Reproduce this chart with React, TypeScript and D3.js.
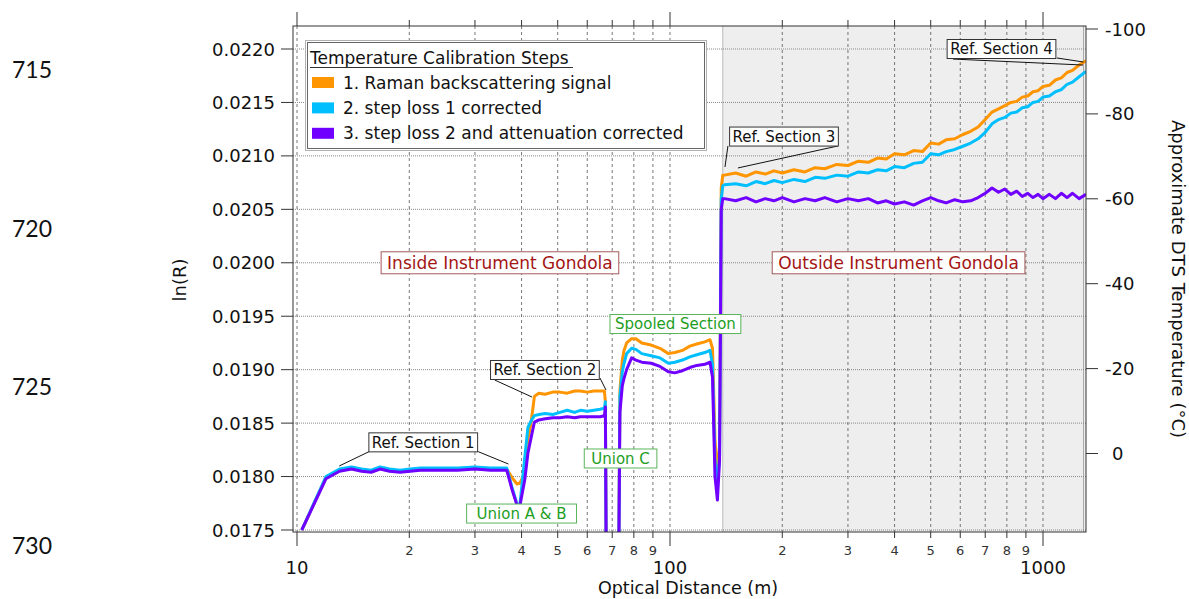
import React, { useRef, useEffect } from "react";
import * as d3 from "d3";

// optical distance (m), shared by the three calibration steps
const distance = [
  10.3, 11.96, 13.0, 14.0, 14.9, 15.8, 16.7, 17.7, 18.9, 20.1, 21.4, 24, 27, 30, 33, 36.5,
  37.7, 38.9, 39.6, 40.8, 41.6, 42.4, 43.3, 44.5, 46.3, 48.5, 50.7, 53, 55.5, 57.5, 60, 62.5, 65, 66.7, 67.1, 67.5,
  72.8, 73.4, 74.5, 75.3, 76.5, 78.9, 81, 84, 89, 94, 99, 103, 108, 113, 118, 124, 128, 130, 132, 134, 135.8, 137.2, 138.5,
  140, 150, 160, 170, 180, 190, 200, 215, 230, 245, 260, 280, 300, 320, 340, 360, 380, 400, 425, 450, 475,
  500, 525, 550, 580, 610, 640, 670, 700, 730, 760, 790, 820, 850, 880, 910, 940, 970, 1000, 1040, 1080,
  1120, 1160, 1200, 1250, 1304,
];

// 1. Raman backscattering signal, ln(R)
const rawSignal = [
  0.0175, 0.01799, 0.01806, 0.01808, 0.01806, 0.01805, 0.01808, 0.01806, 0.01805, 0.01806, 0.01807, 0.01807, 0.01807, 0.01808, 0.01807, 0.01807,
  0.01799, 0.01793, 0.01794, 0.01803, 0.01835, 0.0185, 0.01875, 0.01878, 0.01877, 0.01879, 0.01879, 0.01878, 0.0188, 0.0188, 0.01879, 0.0188, 0.0188, 0.0188, 0.0187, 0.017,
  0.017, 0.0188, 0.01909, 0.01918, 0.01925, 0.01929, 0.01929, 0.01925, 0.01923, 0.0192, 0.01915, 0.01916, 0.01918, 0.01922, 0.01924, 0.01926, 0.01928, 0.0192, 0.01835, 0.018, 0.0183, 0.0207, 0.02082,
  0.02082, 0.02084, 0.02081, 0.02085, 0.02083, 0.02086, 0.02084, 0.02087, 0.02085, 0.02089, 0.02088, 0.02092, 0.02091, 0.02095, 0.02094, 0.02098, 0.02097, 0.02102, 0.02101, 0.02105, 0.02104,
  0.02112, 0.02111, 0.02115, 0.02116, 0.0212, 0.02123, 0.02127, 0.02134, 0.02141, 0.02144, 0.02147, 0.0215, 0.02151, 0.02155, 0.02156, 0.0216, 0.02161, 0.02165, 0.02166, 0.02171,
  0.02173, 0.02178, 0.0218, 0.02185, 0.02189,
];

// 2. step loss 1 corrected
const stepLoss1 = [
  0.0175, 0.018, 0.01807, 0.01809, 0.01807, 0.01806, 0.01809, 0.01807, 0.01806, 0.01807, 0.01808, 0.01808, 0.01808, 0.01809, 0.01808, 0.01808,
  0.0179, 0.01774, 0.01774, 0.01818, 0.01846, 0.01852, 0.01857, 0.01858, 0.01859, 0.01858, 0.0186, 0.01862, 0.0186, 0.01862, 0.01861, 0.01862, 0.01863, 0.01864, 0.0187, 0.017,
  0.017, 0.01875, 0.01898, 0.01906, 0.01915, 0.0192, 0.01919, 0.01915, 0.01913, 0.01911, 0.01906, 0.01907, 0.01909, 0.01912, 0.01914, 0.01916, 0.01918, 0.01905, 0.01815, 0.0179, 0.0182, 0.0206, 0.02072,
  0.02073, 0.02074, 0.02072, 0.02076, 0.02074, 0.02077, 0.02075, 0.02078, 0.02076, 0.0208, 0.02079, 0.02082, 0.02081, 0.02085, 0.02084, 0.02087, 0.02086, 0.0209, 0.02089, 0.02093, 0.02094,
  0.02102, 0.02101, 0.02104, 0.02106, 0.02109, 0.02112, 0.02116, 0.02122, 0.0213, 0.02134, 0.02136, 0.0214, 0.02141, 0.02145, 0.02146, 0.0215, 0.02151, 0.02155, 0.02156, 0.0216,
  0.02162, 0.02167, 0.02169, 0.02174, 0.02179,
];

// 3. step loss 2 and attenuation corrected
const stepLoss2 = [
  0.0175, 0.01798, 0.01805, 0.01807, 0.01805, 0.01804, 0.01807, 0.01805, 0.01804, 0.01805, 0.01806, 0.01806, 0.01806, 0.01807, 0.01806, 0.01806,
  0.01788, 0.01773, 0.01773, 0.01797, 0.01822, 0.01836, 0.01851, 0.01853, 0.01854, 0.01855, 0.01855, 0.01856, 0.01855, 0.01856, 0.01856, 0.01856, 0.01856, 0.01857, 0.01865, 0.017,
  0.017, 0.0186, 0.01885, 0.01892, 0.019, 0.01911, 0.01909, 0.01907, 0.01906, 0.01903, 0.01898, 0.01897, 0.01899, 0.01902, 0.01904, 0.01905, 0.01907, 0.01893, 0.018, 0.01778, 0.01815, 0.0205, 0.0206,
  0.0206, 0.02058, 0.02061, 0.02057, 0.0206, 0.02058, 0.02061, 0.02057, 0.0206, 0.02058, 0.02061, 0.02057, 0.0206, 0.02058, 0.0206, 0.02056, 0.02058, 0.02055, 0.02057, 0.02054, 0.02058,
  0.02061, 0.02058, 0.02056, 0.02059, 0.02057, 0.02058, 0.02061, 0.02065, 0.0207, 0.02066, 0.02069, 0.02064, 0.02067, 0.02062, 0.02065, 0.02061, 0.02064, 0.0206, 0.02064, 0.0206,
  0.02065, 0.02061, 0.02065, 0.0206, 0.02064,
];

const seriesNames = [
  "1. Raman backscattering signal",
  "2. step loss 1 corrected",
  "3. step loss 2 and attenuation corrected",
];
const seriesColors = ["#ff9500", "#00bfff", "#7000ff"];
const seriesValues = [rawSignal, stepLoss1, stepLoss2];

const leftTicks = [0.0175, 0.018, 0.0185, 0.019, 0.0195, 0.02, 0.0205, 0.021, 0.0215, 0.022];
const rightTicks = [0, -20, -40, -60, -80, -100];
const lineNumbers = ["715", "720", "725", "730"];
const outsideStart = 138.5;

// text boxes, anchored in data units: [distance, ln(R)]
const refLabels = [
  { text: "Ref. Section 1", at: [21.8, 0.01832], leaders: [[[15.6, 0.018233], [12.98, 0.018099]], [[30.6, 0.018233], [36.9, 0.018117]]] },
  { text: "Ref. Section 2", at: [46.2, 0.018997], leaders: [[[33.9, 0.018903], [42.66, 0.018744]], [[64.9, 0.018922], [67.35, 0.01881]]] },
  { text: "Ref. Section 3", at: [202.1, 0.021181], leaders: [[[143.0, 0.021093], [140.4, 0.020896]], [[282.1, 0.021093], [152.1, 0.020887]]] },
  { text: "Ref. Section 4", at: [774, 0.022], leaders: [[[573.8, 0.021906], [1280, 0.02185]], [[1090, 0.021916], [1285, 0.021878]]] },
];
const regionLabels = [
  { text: "Inside Instrument Gondola", at: [35.0, 0.02] },
  { text: "Outside Instrument Gondola", at: [410, 0.02] },
];
const unionLabels = [
  { text: "Union A & B", at: [40.0, 0.017654], pad: 10 },
  { text: "Union C", at: [73.7, 0.018169], pad: 7 },
  { text: "Spooled Section", at: [103.4, 0.019427], pad: 5 },
];

const FONT = "DejaVu Sans";

const App = () => {
  const svgRef = useRef<SVGSVGElement>(null);

  useEffect(() => {
    const svg = d3.select(svgRef.current);
    svg.selectAll("*").remove();

    const left = 293, right = 1086, top = 26, bottom = 532;
    const x = d3.scaleLog().domain([10, 1304]).range([297, 1086]);
    const y = d3.scaleLinear().domain([0.0175, 0.022]).range([530, 49]);
    const yR = d3.scaleLinear().domain([-100, 0]).range([29, 453.5]);
    const xTicks = x.ticks();
    const isMajor = (t: number) => Math.abs(Math.log10(t) - Math.round(Math.log10(t))) < 1e-6;

    svg.append("defs").append("clipPath").attr("id", "plotClip")
      .append("rect").attr("x", left).attr("y", top).attr("width", right - left).attr("height", bottom - top);

    // line numbers of the page
    svg.append("g").selectAll("text").data(lineNumbers).join("text")
      .attr("x", 12).attr("y", (_, i) => 78 + i * 158.7)
      .attr("font-family", "Lato").attr("font-size", 23).attr("fill", "#111")
      .text(d => d);

    // shaded outside region
    svg.append("rect")
      .attr("x", x(outsideStart)).attr("y", top)
      .attr("width", right - x(outsideStart)).attr("height", bottom - top)
      .attr("fill", "#eeeeee");
    svg.append("line")
      .attr("x1", x(outsideStart)).attr("x2", x(outsideStart)).attr("y1", top).attr("y2", bottom)
      .attr("stroke", "#bbb");
    svg.append("line")
      .attr("x1", right - 2.5).attr("x2", right - 2.5).attr("y1", top).attr("y2", bottom)
      .attr("stroke", "#aaa");

    // grid
    const grid = svg.append("g");
    grid.selectAll(".hg").data(leftTicks).join("line").attr("class", "hg")
      .attr("x1", left).attr("x2", right).attr("y1", d => y(d)).attr("y2", d => y(d))
      .attr("stroke", "#888").attr("stroke-dasharray", "1,1");
    grid.selectAll(".vg").data(xTicks).join("line").attr("class", "vg")
      .attr("x1", d => x(d)).attr("x2", d => x(d)).attr("y1", top).attr("y2", bottom)
      .attr("stroke", "#555").attr("stroke-width", 0.8).attr("stroke-dasharray", "3,3");

    // curves
    const line = d3.line<number>()
      .x((_, i) => x(distance[i]))
      .y(d => y(d))
      .curve(d3.curveLinear);
    svg.append("g").attr("clip-path", "url(#plotClip)")
      .selectAll("path").data(seriesValues).join("path")
      .attr("d", d => line(d))
      .attr("fill", "none")
      .attr("stroke", (_, i) => seriesColors[i])
      .attr("stroke-width", 3)
      .attr("stroke-linejoin", "round");

    // frame
    const axes = svg.append("g").attr("stroke", "#333").attr("fill", "none");
    axes.append("rect").attr("x", left).attr("y", top).attr("width", right - left).attr("height", bottom - top);

    // bottom and top ticks
    axes.selectAll(".bt").data(xTicks).join("line").attr("class", "bt")
      .attr("x1", d => x(d)).attr("x2", d => x(d))
      .attr("y1", bottom).attr("y2", d => bottom + (isMajor(d) ? 14 : 6));
    axes.selectAll(".tt").data(xTicks).join("line").attr("class", "tt")
      .attr("x1", d => x(d)).attr("x2", d => x(d))
      .attr("y1", top).attr("y2", d => top - (isMajor(d) ? 14 : 6));
    svg.append("g").selectAll("text").data(xTicks).join("text")
      .attr("x", d => x(d))
      .attr("y", d => (isMajor(d) ? 574 : 555))
      .attr("text-anchor", "middle")
      .attr("font-family", FONT)
      .attr("font-size", d => (isMajor(d) ? 18 : 13))
      .attr("fill", d => (isMajor(d) ? "#111" : "#333"))
      .text(d => (isMajor(d) ? String(d) : String(Math.round(d / Math.pow(10, Math.floor(Math.log10(d) + 1e-9))))));

    // left axis
    axes.selectAll(".lt").data(leftTicks).join("line").attr("class", "lt")
      .attr("x1", 281).attr("x2", left).attr("y1", d => y(d)).attr("y2", d => y(d));
    svg.append("g").selectAll("text").data(leftTicks).join("text")
      .attr("x", 275).attr("y", d => y(d) + 6.5)
      .attr("text-anchor", "end")
      .attr("font-family", FONT).attr("font-size", 18).attr("fill", "#111")
      .text(d => d3.format(".4f")(d));

    // right axis
    axes.selectAll(".rt").data(rightTicks).join("line").attr("class", "rt")
      .attr("x1", right).attr("x2", right + 12).attr("y1", d => yR(d)).attr("y2", d => yR(d));
    svg.append("g").selectAll("text").data(rightTicks).join("text")
      .attr("x", d => (d === 0 ? 1112 : 1105)).attr("y", d => yR(d) + 6.5)
      .attr("font-family", FONT).attr("font-size", 18).attr("fill", "#111")
      .text(d => String(d));

    // axis titles
    svg.append("text")
      .attr("transform", "translate(186,280) rotate(-90)")
      .attr("text-anchor", "middle").attr("font-family", FONT).attr("font-size", 18).attr("fill", "#111")
      .text("ln(R)");
    svg.append("text")
      .attr("transform", "translate(1172,279) rotate(90)")
      .attr("text-anchor", "middle").attr("font-family", FONT).attr("font-size", 18).attr("fill", "#111")
      .text("Approximate DTS Temperature (°C)");
    svg.append("text")
      .attr("x", 688).attr("y", 594)
      .attr("text-anchor", "middle").attr("font-family", FONT).attr("font-size", 17.5).attr("fill", "#111")
      .text("Optical Distance (m)");

    // boxed labels
    const boxLabel = (g: any, text: string, at: number[], size: number, color: string, border: string, pad: number, h: number) => {
      const cx = x(at[0]), cy = y(at[1]);
      const t = g.append("text")
        .attr("x", cx).attr("y", cy + size * 0.36)
        .attr("text-anchor", "middle")
        .attr("font-family", FONT).attr("font-size", size).attr("fill", color)
        .text(text);
      const w = (t.node() as SVGTextElement).getComputedTextLength();
      g.insert("rect", "text:last-of-type")
        .attr("x", cx - w / 2 - pad).attr("y", cy - h / 2)
        .attr("width", w + pad * 2).attr("height", h)
        .attr("fill", "white").attr("stroke", border);
    };

    const notes = svg.append("g");
    refLabels.forEach(l => {
      l.leaders.forEach(([a, b]) => {
        notes.append("line")
          .attr("x1", x(a[0])).attr("y1", y(a[1])).attr("x2", x(b[0])).attr("y2", y(b[1]))
          .attr("stroke", "#111");
      });
    });
    refLabels.forEach(l => {
      const g = notes.append("g");
      boxLabel(g, l.text, l.at, 15, "#111", "#333", 3, 19);
    });
    regionLabels.forEach(l => {
      const g = notes.append("g");
      boxLabel(g, l.text, l.at, 17, "#a31515", "#a65a5a", 6, 22);
    });
    unionLabels.forEach(l => {
      const g = notes.append("g");
      boxLabel(g, l.text, l.at, 15, "#1e9e1e", "#5ab55a", l.pad, 19);
    });

    // legend
    const legend = svg.append("g");
    legend.append("rect").attr("x", 305.5).attr("y", 40.5).attr("width", 401).attr("height", 110)
      .attr("fill", "white").attr("stroke", "#b0b0b0");
    legend.append("rect").attr("x", 307.5).attr("y", 42.5).attr("width", 397).attr("height", 106)
      .attr("fill", "none").attr("stroke", "#666");
    legend.append("text").attr("x", 310).attr("y", 64)
      .attr("font-family", FONT).attr("font-size", 17).attr("fill", "#111")
      .text("Temperature Calibration Steps");
    legend.append("line").attr("x1", 310).attr("x2", 573).attr("y1", 67.5).attr("y2", 67.5)
      .attr("stroke", "#333");
    const items = legend.selectAll(".item").data(seriesNames).join("g").attr("class", "item")
      .attr("transform", (_, i) => `translate(0,${82.5 + i * 25.4})`);
    items.append("rect").attr("x", 312).attr("y", -5.5).attr("width", 22).attr("height", 11)
      .attr("fill", (_, i) => seriesColors[i]);
    items.append("text").attr("x", 343).attr("y", 6)
      .attr("font-family", FONT).attr("font-size", 17).attr("fill", "#111")
      .text(d => d);
  }, []);

  return (
    <svg ref={svgRef} width={1189} height={599}
      style={{ position: "absolute", left: 0, top: 0, background: "white" }}>
    </svg>
  );
};

export default App;
